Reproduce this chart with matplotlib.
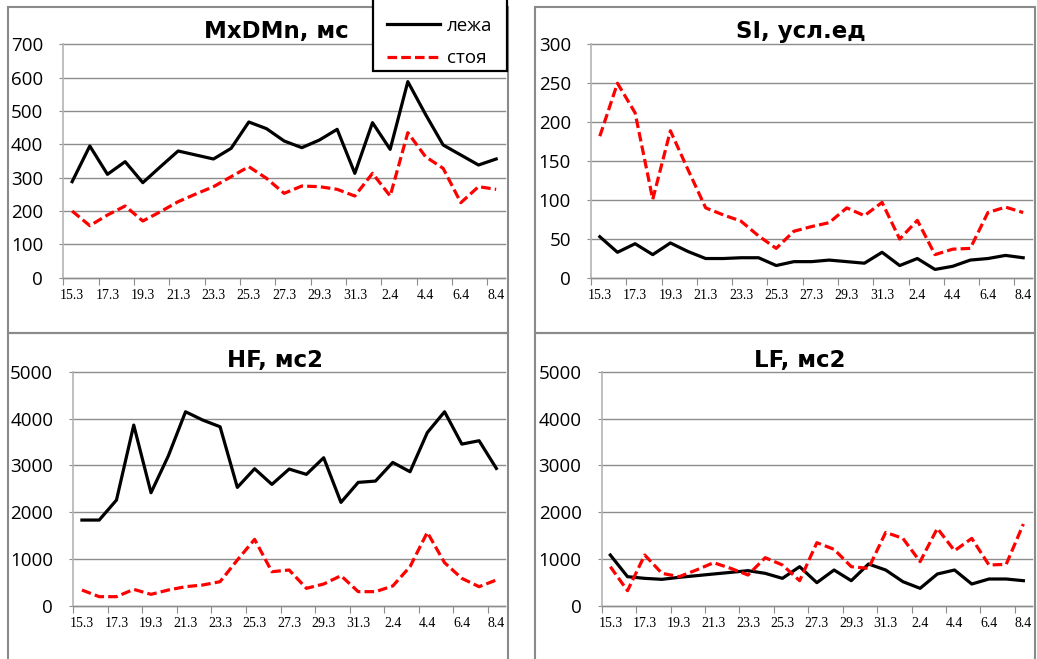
import numpy as np
import matplotlib.pyplot as plt
from matplotlib.patches import Rectangle

dates = ['15.3', '16.3', '17.3', '18.3', '19.3', '20.3', '21.3', '22.3', '23.3',
         '24.3', '25.3', '26.3', '27.3', '28.3', '29.3', '30.3', '31.3',
         '1.4', '2.4', '3.4', '4.4', '5.4', '6.4', '7.4', '8.4']

mxdmn_lying = [288, 395, 310, 348, 285, 333, 380, 368, 356, 388, 467, 447, 410,
               390, 413, 445, 313, 465, 385, 588, 490, 398, 368, 338, 356]
mxdmn_standing = [200, 156, 188, 215, 170, 198, 228, 251, 273, 303, 333, 298, 253,
                  275, 273, 265, 245, 313, 245, 435, 363, 328, 225, 273, 265]

si_lying = [53, 33, 44, 30, 45, 34, 25, 25, 26, 26, 16, 21, 21,
            23, 21, 19, 33, 16, 25, 11, 15, 23, 25, 29, 26]
si_standing = [182, 250, 212, 101, 189, 139, 90, 81, 73, 54, 38, 60, 66,
               71, 90, 80, 97, 50, 74, 30, 37, 38, 84, 91, 84]

hf_lying = [1834, 1834, 2261, 3861, 2417, 3200, 4145, 3967, 3825, 2531, 2929, 2595, 2922,
            2809, 3164, 2211, 2638, 2666, 3064, 2865, 3700, 4145, 3455, 3527, 2936]
hf_standing = [341, 199, 199, 355, 249, 341, 412, 448, 519, 981, 1422, 732, 768,
               377, 469, 647, 306, 306, 427, 839, 1571, 924, 590, 412, 555]

lf_lying = [1088, 626, 590, 569, 612, 647, 683, 718, 754, 697, 590, 839, 498,
            768, 540, 896, 768, 519, 377, 683, 768, 469, 576, 576, 540]
lf_standing = [839, 327, 1088, 697, 626, 768, 924, 803, 661, 1031, 875, 540, 1351,
               1209, 839, 803, 1571, 1443, 946, 1657, 1180, 1443, 875, 889, 1749]

titles = ['MxDMn, мс', 'SI, усл.ед', 'HF, мс2', 'LF, мс2']
legend_labels = ['лежа', 'стоя']

W, H = 1037, 659
fig = plt.figure(figsize=(W / 100, H / 100), dpi=100)

# pixel boxes (left, top, right, bottom) of the plot areas
boxes = [(63.3, 44.3, 505, 277.7), (591, 44.3, 1032, 278),
         (73.3, 371.7, 505, 606), (601.7, 371.7, 1032, 606)]
title_pos = [(276, 38.3), (801, 37.7), (275, 366.7), (800, 366.7)]
data = [(mxdmn_lying, mxdmn_standing, 700, 100),
        (si_lying, si_standing, 300, 50),
        (hf_lying, hf_standing, 5000, 1000),
        (lf_lying, lf_standing, 5000, 1000)]

x = np.arange(len(dates))
grid_col = '#8c8c8c'
tick_font = ['Open Sans', 'DejaVu Sans']

for (l, t, r, b), (lying, standing, ymax, step), title, (tx, ty) in zip(boxes, data, titles, title_pos):
    ax = fig.add_axes([l / W, 1 - b / H, (r - l) / W, (b - t) / H])
    ax.plot(x, lying, color='black', lw=2.3, solid_joinstyle='round', zorder=3)
    ax.plot(x, standing, color='red', lw=2.3, dashes=(3, 1.3), zorder=3)
    ax.set_xlim(-0.5, len(dates) - 0.5)
    ax.set_ylim(0, ymax)
    ax.set_yticks(np.arange(0, ymax + 1, step))
    ax.yaxis.grid(True, color=grid_col, lw=1.0)
    for gl in ax.get_ygridlines():
        gl.set_clip_on(False)
    ax.set_axisbelow(True)
    for s in ['top', 'right']:
        ax.spines[s].set_visible(False)
    ax.spines['left'].set_color('#b4b4b4')
    ax.spines['left'].set_linewidth(1.2)
    ax.spines['bottom'].set_color(grid_col)
    ax.spines['bottom'].set_linewidth(1.0)

    ax.set_xticks(np.arange(-0.5, len(dates) - 1, 2))
    ax.set_xticklabels([])
    ax.set_xticks(x[::2], minor=True)
    ax.set_xticklabels(dates[::2], minor=True, fontsize=10, family='Liberation Serif')
    ax.tick_params(axis='x', which='major', length=5, color=grid_col, direction='out')
    ax.tick_params(axis='x', which='minor', length=0, pad=8)
    ax.tick_params(axis='y', length=3, color=grid_col, pad=11.5, labelsize=13.5)
    for lab in ax.get_yticklabels():
        lab.set_family(tick_font)

    fig.text(tx / W, 1 - ty / H, title, ha='center', va='baseline',
             fontsize=16.5, fontweight='bold', family='DejaVu Sans')

# overlay for panel frames and legend
ov = fig.add_axes([0, 0, 1, 1])
ov.set_xlim(0, W)
ov.set_ylim(H, 0)
ov.axis('off')
ov.patch.set_alpha(0)

frames = [(8, 7, 508, 333), (535, 7, 1035, 333), (8, 333, 508, 662), (535, 333, 1035, 662)]
for (l, t, r, b) in frames:
    ov.add_patch(Rectangle((l, t), r - l, b - t, fill=False, ec='#8a8a8a', lw=1.5))

ov.add_patch(Rectangle((373, -3), 134, 74, fc='white', ec='black', lw=1.6, zorder=4))
ov.plot([387, 440], [24, 24], color='black', lw=2.3, zorder=5)
ov.plot([387, 440], [57, 57], color='red', lw=2.3, dashes=(3, 1.3), zorder=5)
ov.text(447, 30.7, legend_labels[0], va='baseline', fontsize=13.5, family=tick_font, zorder=5)
ov.text(447, 62.7, legend_labels[1], va='baseline', fontsize=13.5, family=tick_font, zorder=5)

fig.savefig('out.png', dpi=100, facecolor='white')
